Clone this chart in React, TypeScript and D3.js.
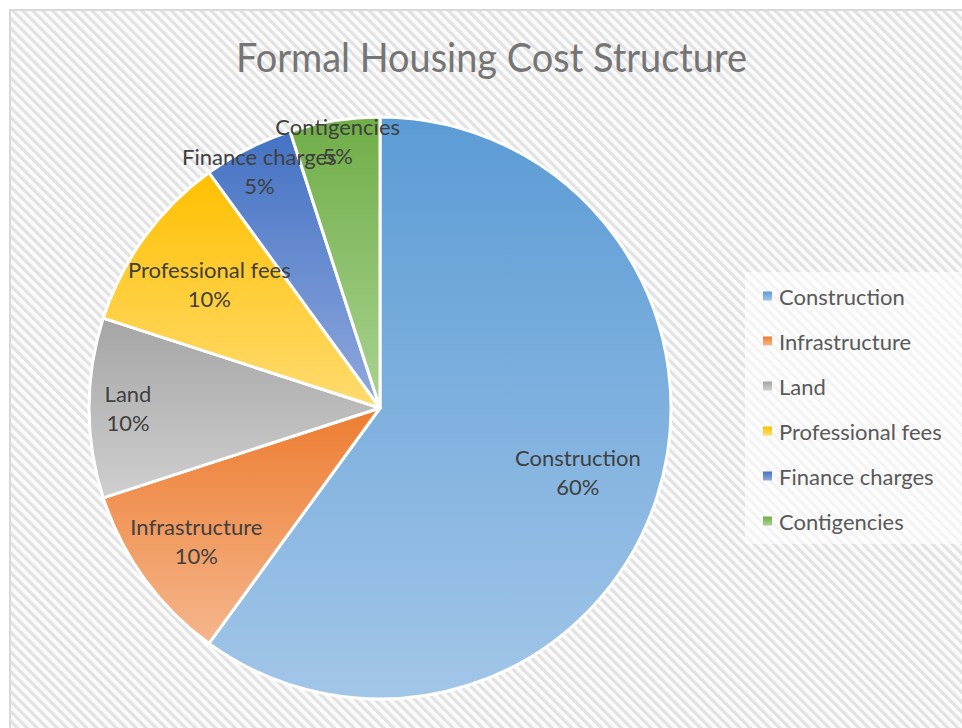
import React from "react";
import * as d3 from "d3";

const categories = ["Construction", "Infrastructure", "Land", "Professional fees", "Finance charges", "Contigencies"];
const values = [60, 10, 10, 10, 5, 5];
const percentLabels = ["60%", "10%", "10%", "10%", "5%", "5%"];
const title = "Formal Housing Cost Structure";

const colorsTop = ["#5B9BD5", "#ED7D31", "#A5A5A5", "#FFC000", "#4472C4", "#70AD47"];
const colorsBottom = ["#A2C6E8", "#F5B68C", "#CFCFCF", "#FFDB70", "#90A9DD", "#AAD392"];
const labelRadiusFactor = [0.715, 0.78, 0.866, 0.725, 0.913, 0.93];

const W = 962;
const H = 728;
const cx = 380;
const cy = 408;
const R = 291;

export default function App() {
  const pie = d3.pie<number>().sort(null).value((d) => d);
  const arcs = pie(values);
  const arcGen = d3.arc<d3.PieArcDatum<number>>().innerRadius(0).outerRadius(R);

  const legendY = d3.scalePoint<string>().domain(categories).range([296, 521]);

  return (
    <svg width={W} height={H} style={{ position: "absolute", left: 0, top: 0 }} fontFamily="Lato, 'Open Sans', sans-serif">
      <defs>
        <pattern id="hatch" width="7" height="7" patternUnits="userSpaceOnUse" patternTransform="rotate(-45)">
          <rect width="7" height="7" fill="#fbfbfb" />
          <rect width="3.2" height="7" fill="#e2e2e2" />
        </pattern>
        {categories.map((c, i) => (
          <linearGradient key={c} id={`g${i}`} x1="0" y1="0" x2="0" y2="1">
            <stop offset="0" stopColor={colorsTop[i]} />
            <stop offset="1" stopColor={colorsBottom[i]} />
          </linearGradient>
        ))}
      </defs>
      <rect x={0} y={0} width={W} height={H} fill="#ffffff" />
      <rect x={10} y={10} width={970} height={740} fill="url(#hatch)" stroke="#d9d9d9" strokeWidth={2} />
      <text x={491.5} y={72} textAnchor="middle" fontSize={40} fill="#757575" textLength={511} lengthAdjust="spacingAndGlyphs">
        {title}
      </text>
      <g transform={`translate(${cx},${cy})`}>
        {arcs.map((a, i) => (
          <path key={categories[i]} d={arcGen(a) || ""} fill={`url(#g${i})`} stroke="#ffffff" strokeWidth={3} strokeLinejoin="round" />
        ))}
        {arcs.map((a, i) => {
          const mid = (a.startAngle + a.endAngle) / 2;
          const r = R * labelRadiusFactor[i];
          const x = r * Math.sin(mid);
          const y = -r * Math.cos(mid);
          return (
            <g key={`l${i}`} fill="#404040" fontSize={22} textAnchor="middle">
              <text x={x} y={y - 14.5} dominantBaseline="central">{categories[i]}</text>
              <text x={x} y={y + 14.5} dominantBaseline="central">{percentLabels[i]}</text>
            </g>
          );
        })}
      </g>
      <rect x={745} y={272} width={230} height={272} fill="#ffffff" fillOpacity={0.6} />
      {categories.map((c, i) => (
        <g key={`lg${i}`}>
          <rect x={763} y={(legendY(c) as number) - 4.5} width={9} height={9} fill={`url(#g${i})`} />
          <text x={779} y={legendY(c) as number} dominantBaseline="central" fontSize={22} fill="#595959">
            {c}
          </text>
        </g>
      ))}
    </svg>
  );
}
